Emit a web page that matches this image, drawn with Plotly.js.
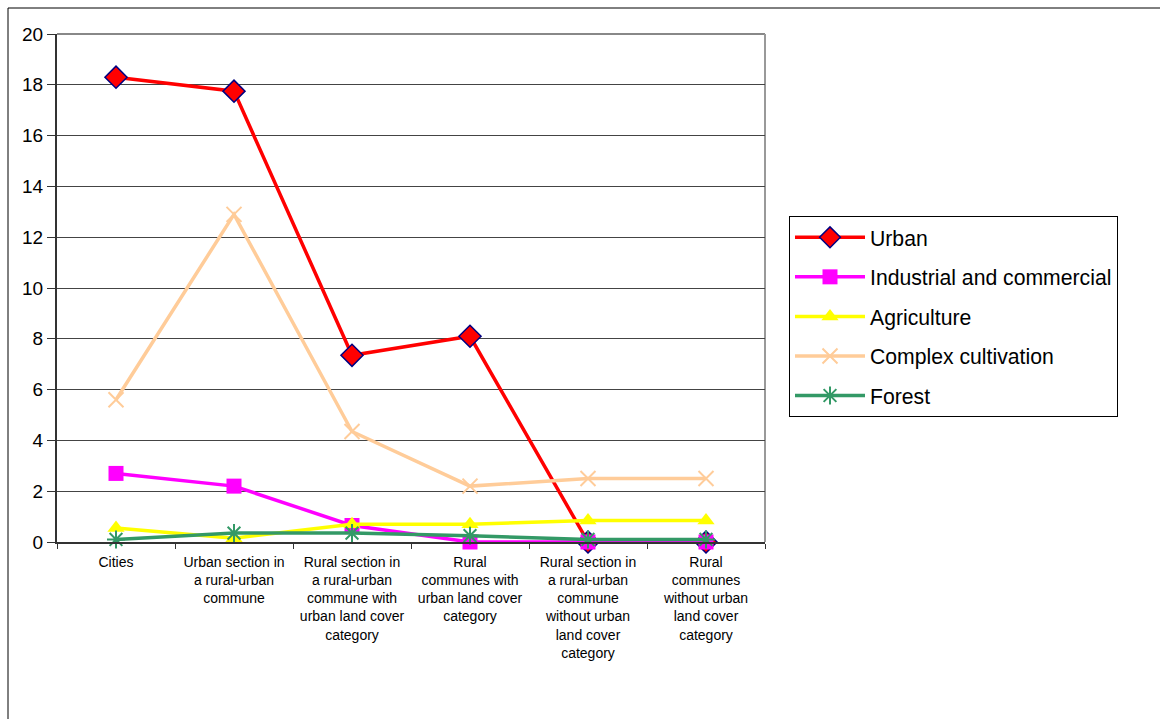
<!DOCTYPE html>
<html>
<head>
<meta charset="utf-8">
<script src="https://cdn.plot.ly/plotly-3.0.1.min.js"></script>
<style>
html,body{margin:0;padding:0;background:#fff;}
#chart{width:1160px;height:719px;}
</style>
</head>
<body>
<div id="chart"></div>
<script>
const categories = [
  "Cities",
  "Urban section in<br>a rural-urban<br>commune",
  "Rural section in<br>a rural-urban<br>commune with<br>urban land cover<br>category",
  "Rural<br>communes with<br>urban land cover<br>category",
  "Rural section in<br>a rural-urban<br>commune<br>without urban<br>land cover<br>category",
  "Rural<br>communes<br>without urban<br>land cover<br>category"
];
const urban = [18.3, 17.75, 7.35, 8.1, 0, 0];
const industrial = [2.7, 2.2, 0.65, 0, 0, 0];
const agriculture = [0.55, 0.15, 0.7, 0.7, 0.85, 0.85];
const complexCultivation = [5.6, 12.9, 4.35, 2.2, 2.5, 2.5];
const forest = [0.1, 0.35, 0.35, 0.25, 0.1, 0.1];
const yTicks = [0, 2, 4, 6, 8, 10, 12, 14, 16, 18, 20];

const mk = (name, y, color, symbol, size, mcolor, lcolor, lw, grp) => ({
  type: 'scatter', mode: 'lines+markers', name, x: categories, y,
  legendgroup: grp,
  line: {color, width: 3.5},
  marker: {symbol, size, color: mcolor, line: {color: lcolor, width: lw}},
  cliponaxis: false
});

const traces = [
  mk('Urban', urban, '#FF0000', 'diamond', 17, '#FF0000', '#000080', 1.5, 'a'),
  mk('Industrial and commercial', industrial, '#FF00FF', 'square', 15, '#FF00FF', '#FF00FF', 0, 'b'),
  mk('Agriculture', agriculture, '#FFFF00', 'triangle-up', 15, '#FFFF00', '#FFFF00', 0, 'c'),
  mk('Complex cultivation', complexCultivation, '#FFCC99', 'x-thin-open', 15, '#FFCC99', '#FFCC99', 2, 'd'),
  mk('Forest', forest, '#339966', 'asterisk-open', 15, '#339966', '#339966', 2, 'e')
];

const L = 57, R = 765, T = 34, B = 542, W = 1160, H = 719;
const pw = R - L, ph = B - T;
const px = v => (v - L) / pw;
const py = v => (B - v) / ph;

const layout = {
  width: W, height: H,
  margin: {l: L, r: W - R, t: T, b: H - B},
  paper_bgcolor: '#ffffff', plot_bgcolor: '#ffffff',
  font: {family: 'Liberation Sans, Arial, sans-serif', color: '#000'},
  showlegend: true,
  legend: {
    x: px(789), y: py(216), xanchor: 'left', yanchor: 'top',
    bordercolor: '#000', borderwidth: 1, bgcolor: '#fff',
    font: {size: 21.2, family: 'Liberation Sans, Arial, sans-serif'},
    traceorder: 'grouped', tracegroupgap: 9,
    itemwidth: 70
  },
  xaxis: {
    type: 'category', tickson: 'boundaries', ticks: 'outside', ticklen: 5,
    tickcolor: '#333', showline: true, linecolor: '#333', linewidth: 2,
    showgrid: false, tickangle: 0, range: [-0.5, 5.5], fixedrange: true,
    ticklabelstandoff: 6,
    tickfont: {size: 14, family: 'Liberation Sans Narrow, Liberation Sans, Arial, sans-serif'}
  },
  yaxis: {
    range: [0, 20], tickvals: yTicks, ticktext: yTicks.map(String),
    ticks: 'outside', ticklen: 8, tickcolor: '#333',
    showline: true, linecolor: '#333', linewidth: 2,
    showgrid: true, gridcolor: '#444', gridwidth: 1, zeroline: false,
    tickfont: {size: 19}
  },
  shapes: [
    {type: 'rect', xref: 'paper', yref: 'paper', x0: px(8), x1: px(1200), y0: py(760), y1: py(8),
     line: {color: '#000', width: 1}, fillcolor: 'rgba(0,0,0,0)', layer: 'below'},
    {type: 'line', xref: 'paper', yref: 'paper', x0: 0, x1: 1, y0: 1, y1: 1,
     line: {color: '#888', width: 2}, layer: 'below'},
    {type: 'line', xref: 'paper', yref: 'paper', x0: 1, x1: 1, y0: 0, y1: 1,
     line: {color: '#999', width: 2}, layer: 'below'}
  ]
};

Plotly.newPlot('chart', traces, layout, {staticPlot: true, displayModeBar: false});
</script>
</body>
</html>
